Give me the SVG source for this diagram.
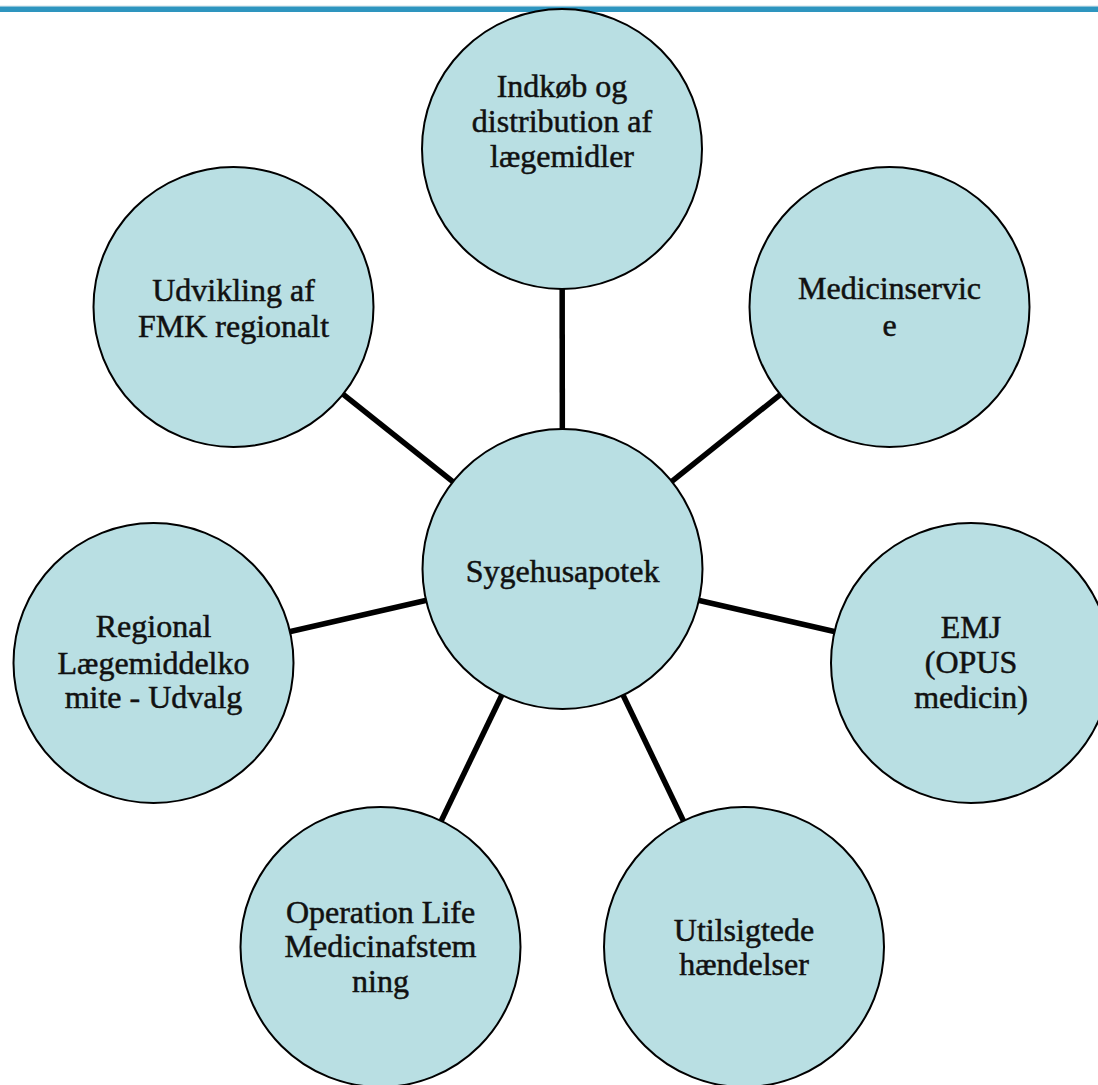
<svg xmlns="http://www.w3.org/2000/svg" width="1098" height="1085" viewBox="0 0 1098 1085">
<style>
.node circle{fill:#B9DFE3;stroke:#000;stroke-width:2}
.node text{font-family:"Liberation Serif","Times New Roman",serif;font-size:32px;fill:#111;stroke:#111;stroke-width:0.5;text-anchor:middle}
.conn line{stroke:#000;stroke-width:5.5}
</style>
<rect x="0" y="0" width="1098" height="1085" fill="#fff"/>
<rect x="0" y="5.5" width="1098" height="1" fill="#D6E4EA"/>
<rect x="0" y="6.5" width="1098" height="5.5" fill="#2E95BF"/>
<g id="connectors" class="conn">
<line x1="562.5" y1="569" x2="562" y2="149"/>
<line x1="562.5" y1="569" x2="889.5" y2="307"/>
<line x1="562.5" y1="569" x2="971" y2="663"/>
<line x1="562.5" y1="569" x2="744" y2="947"/>
<line x1="562.5" y1="569" x2="380.5" y2="947"/>
<line x1="562.5" y1="569" x2="153.5" y2="663"/>
<line x1="562.5" y1="569" x2="233.5" y2="307"/>
</g>
<g id="n-center" class="node"><circle cx="562.5" cy="569" r="140"/><text x="562.5" y="582">Sygehusapotek</text></g>
<g id="n-indkob" class="node"><circle cx="562" cy="149" r="140"/><text x="562" y="97">Indkøb og</text><text x="562" y="132">distribution af</text><text x="562" y="167">lægemidler</text></g>
<g id="n-medicinservice" class="node"><circle cx="889.5" cy="307" r="140"/><text x="889.5" y="299">Medicinservic</text><text x="889.5" y="336">e</text></g>
<g id="n-emj" class="node"><circle cx="971" cy="663" r="140"/><text x="971" y="638">EMJ</text><text x="971" y="673">(OPUS</text><text x="971" y="708">medicin)</text></g>
<g id="n-utilsigtede" class="node"><circle cx="744" cy="947" r="140"/><text x="744" y="941">Utilsigtede</text><text x="744" y="975">hændelser</text></g>
<g id="n-operation" class="node"><circle cx="380.5" cy="947" r="140"/><text x="380.5" y="923">Operation Life</text><text x="380.5" y="957">Medicinafstem</text><text x="380.5" y="992">ning</text></g>
<g id="n-regional" class="node"><circle cx="153.5" cy="663" r="140"/><text x="153.5" y="637">Regional</text><text x="153.5" y="674">Lægemiddelko</text><text x="153.5" y="708">mite - Udvalg</text></g>
<g id="n-udvikling" class="node"><circle cx="233.5" cy="307" r="140"/><text x="233.5" y="301">Udvikling af</text><text x="233.5" y="337">FMK regionalt</text></g>
</svg>
